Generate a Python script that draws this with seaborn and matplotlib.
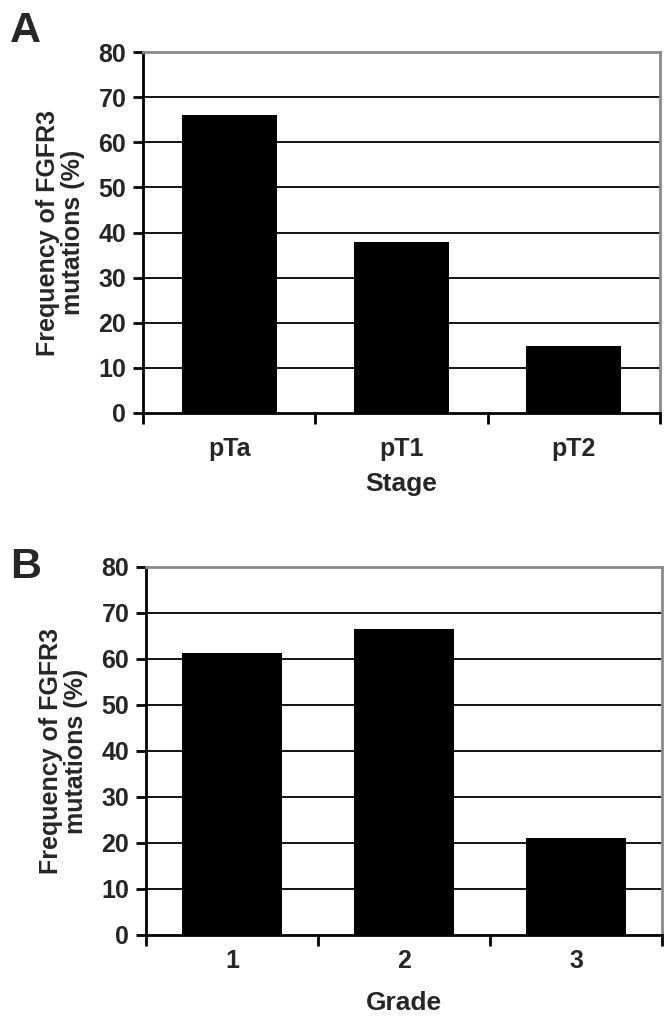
import matplotlib
matplotlib.use("Agg")
import matplotlib.pyplot as plt
import seaborn as sns
import pandas as pd
from matplotlib.ticker import FixedLocator

stage_labels = ["pTa", "pT1", "pT2"]
stage_values = [66.0, 37.8, 14.8]
grade_labels = ["1", "2", "3"]
grade_values = [61.3, 66.6, 21.0]
y_ticks = [0, 10, 20, 30, 40, 50, 60, 70, 80]
ylabel_text = "Frequency of FGFR3\nmutations (%)"

sns.set_theme(style="white")
plt.rcParams['font.family'] = ['Liberation Sans', 'DejaVu Sans']
plt.rcParams['font.weight'] = 'bold'

FS = 18

fig = plt.figure(figsize=(6.72, 10.26), dpi=100)
axA = fig.add_axes([143/672, 1-413/1026, (660-143)/672, (413-52)/1026])
axB = fig.add_axes([146/672, 1-935/1026, (662-146)/672, (935-567)/1026])

def style(ax, labels, values, xlabel, width, xpad, lpad):
    df = pd.DataFrame({"cat": labels, "val": values})
    sns.barplot(data=df, x="cat", y="val", color="black", width=width,
                saturation=1, ax=ax, edgecolor="black", linewidth=0, zorder=3)
    ax.set_xlim(-0.5, len(labels) - 0.5)
    ax.set_ylim(0, 80)
    ax.set_yticks(y_ticks)
    ax.set_yticklabels([str(t) for t in y_ticks], fontsize=FS, fontweight='bold')
    ax.set_xticks(range(len(labels)))
    ax.set_xticklabels(labels, fontsize=FS, fontweight='bold')
    ax.xaxis.set_minor_locator(FixedLocator([i - 0.5 for i in range(len(labels) + 1)]))
    ax.tick_params(axis='x', which='major', length=0, pad=xpad)
    ax.tick_params(axis='x', which='minor', length=8, width=2, direction='out', bottom=True, color='black')
    ax.tick_params(axis='y', which='major', length=7, width=2, direction='out', left=True, color='black', pad=5)
    for t in y_ticks[1:-1]:
        ax.axhline(t, color='black', linewidth=1.3, zorder=1)
    ax.set_axisbelow(True)
    ax.spines['left'].set_color('black')
    ax.spines['left'].set_linewidth(2)
    ax.spines['bottom'].set_color('black')
    ax.spines['bottom'].set_linewidth(2)
    ax.spines['top'].set_color('#8a8a8a')
    ax.spines['top'].set_linewidth(2)
    ax.spines['right'].set_color('#8a8a8a')
    ax.spines['right'].set_linewidth(2)
    for s in ax.spines.values():
        s.set_zorder(5)
    ax.set_ylabel(ylabel_text, fontsize=FS, fontweight='bold', labelpad=10, linespacing=1.05)
    ax.set_xlabel(xlabel, fontsize=FS + 1, fontweight='bold', labelpad=lpad)
    ax.grid(False)

style(axA, stage_labels, stage_values, "Stage", 0.55, 17, 8)
style(axB, grade_labels, grade_values, "Grade", 0.58, 10, 13)

fig.text(10/672, 1-42/1026, "A", fontsize=31, fontweight='bold', ha='left', va='baseline')
fig.text(10/672, 1-578/1026, "B", fontsize=31, fontweight='bold', ha='left', va='baseline')

fig.savefig("out.png", dpi=100, facecolor='white')
